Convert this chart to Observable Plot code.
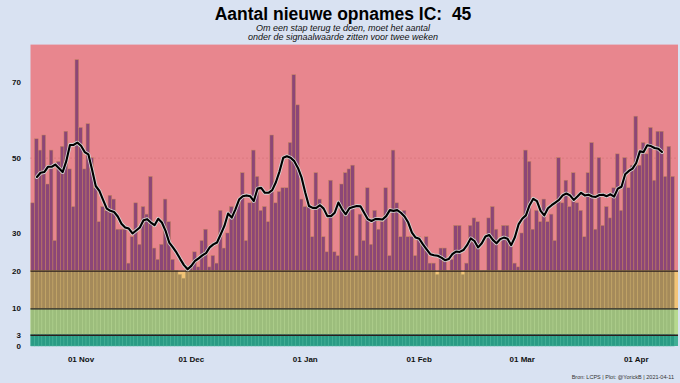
<!DOCTYPE html>
<html>
<head>
<meta charset="utf-8">
<script src="https://cdn.jsdelivr.net/npm/d3@7"></script>
<script src="https://cdn.jsdelivr.net/npm/@observablehq/plot@0.6"></script>
<style>
  html, body { margin: 0; padding: 0; background: #d9e2f2; }
  #fig { position: relative; width: 680px; height: 383px; overflow: hidden; background: #d9e2f2;
         font-family: "Liberation Sans", Arial, sans-serif; }
  #title { position: absolute; left: 0; width: 686px; top: 5px; text-align: center; font-weight: bold;
           font-size: 17.5px; line-height: 18px; white-space: pre; color: #000; }
  .sub { position: absolute; left: 0; width: 686px; text-align: center; font-style: italic;
         font-size: 9px; line-height: 9px; color: #111; }
  #chart { position: absolute; left: 0; top: 40px; }
  #cap { position: absolute; right: 6px; top: 374px; font-size: 5.5px; line-height: 6px; color: #333; }
</style>
</head>
<body>
<div id="fig">
  <div id="title"></div>
  <div class="sub" style="top:24px">Om een stap terug te doen, moet het aantal</div>
  <div class="sub" style="top:33px">onder de signaalwaarde zitten voor twee weken</div>
  <div id="chart"></div>
  <div id="cap">Bron: LCPS | Plot: @YorickB | 2021-04-11</div>
</div>
<script>
// ---- data ----
const startDate = "2020-10-19";
const endDate = "2021-04-12"; // exclusive
const opnames = [
  38,55,52,56,43,52,28,49,53,57,47,37,76,58,47,59,50,42,33,37,
  36,40,39,31,31,31,22,29,38,27,37,35,45,26,23,27,39,33,23,20,
  19,18,21,21,25,21,28,31,21,24,22,36,26,30,37,36,38,46,28,38,
  52,45,36,37,33,56,38,41,42,42,54,72,64,39,37,37,29,46,39,29,
  25,44,25,24,43,46,47,48,24,35,28,42,27,36,31,33,42,24,52,38,
  29,36,29,29,24,29,27,29,22,22,19,26,26,20,23,32,32,19,22,32,
  34,33,20,20,34,37,31,20,32,32,27,22,21,30,52,49,31,36,33,39,
  33,35,28,50,38,44,37,46,38,36,29,46,54,31,50,32,37,34,42,51,
  36,50,42,48,61,48,54,51,58,44,57,57,45,53,45
];
const gemiddelde = [
  null,45,46.1,46.3,47.7,47.7,48.3,47.3,46.3,49.2,53.5,53.5,54.1,53.3,51.6,51,47,42.6,41.3,38.9,
  36.6,36,35.7,34.5,32.6,31.6,31.3,30,30.8,31.6,33.5,33.8,32.9,32.2,33.9,32.9,30.7,27.6,26.3,24.9,
  23.2,21.6,20.5,21.4,22.7,23.4,24.2,24.8,26.3,27.1,27.6,29.8,32,35.3,34.2,36.4,39,39.9,40.1,39.9,
  38.6,41.9,42.1,40.8,40.8,41.5,43.6,46.5,50.1,50.5,50.1,49.2,47.4,44.8,40.8,37.3,36.8,36.8,37.5,36.6,
  34.6,34.6,35.5,38.2,36.4,35.1,36.7,37,37.3,37.2,35.5,33.8,33.3,33.8,33.8,33.7,34.6,36.2,36,36.2,
  35.5,34.5,32.9,30.2,28.9,28.6,27.1,25.8,24.5,24.2,24.1,23.6,22.9,23.2,24.5,25.2,25.1,25.6,26.9,28.7,
  28,26.3,27.4,29.2,29.6,28.3,27.4,28.5,28.9,28.6,26.9,29,32.4,33.9,34.8,37.5,39.2,38.6,36,34.8,
  36.7,37.5,38.2,38.9,40.1,40.6,40.1,38.9,39.8,40.8,40.1,40.3,39.8,39.7,40.2,40.3,39.9,40.4,39.8,41.9,
  42.4,45.7,46.6,47.2,48.7,51.8,51.6,53.4,53.2,52.7,52.5,51.6,null,null,null
];
const yTicks = [0, 3, 10, 20, 30, 50, 70];
const xTickDates = ["2020-11-01", "2020-12-01", "2021-01-01", "2021-02-01", "2021-03-01", "2021-04-01"];
const bandLo = [20, 10, 3, 0];
const bandHi = [80, 20, 10, 3];
const signaalLijnen = [20, 10, 3];
const stippelLijn = [50];

// ---- styles ----
const bgColors   = ["#e8868e", "#f2c477", "#b6d98f", "#3fae95"];
const barFills   = ["#8c4677", "#a58a5a", "#9cbd7c", "#2a9b85"];
const barStrokes = ["#c4845f", "#c8ab6b", "#b2d290", "#4cb59c"];

// ---- build table ----
const day = 864e5;
const dates = d3.utcDay.range(new Date(startDate), new Date(endDate));
const data = dates.map((d, i) => ({
  date: d,
  end: new Date(+d + day),
  mid: new Date(+d + day / 2),
  v: opnames[i],
  avg: gemiddelde[i]
}));
const xDomain = [new Date(+new Date(startDate) - 0.1 * day), new Date(+new Date(endDate) + day)];
const bands = bandLo.map((lo, i) => ({lo, hi: bandHi[i], i}));

document.getElementById("title").textContent =
  "Aantal nieuwe opnames IC:  " + opnames[opnames.length - 1];

const marks = [];
// band backgrounds
marks.push(Plot.rect(bands, {
  x1: () => xDomain[0], x2: () => xDomain[1], y1: "lo", y2: "hi",
  fill: d => bgColors[d.i]
}));
// dotted line at 50 (behind bars)
marks.push(Plot.ruleY(stippelLijn, {stroke: "#c9656e", strokeWidth: 0.8, strokeDasharray: "1,3"}));
// bars, split per band
bands.forEach(b => {
  marks.push(Plot.rect(data.filter(d => d.v > b.lo), {
    x1: "date", x2: "end",
    y1: () => b.lo, y2: d => Math.min(d.v, b.hi),
    fill: barFills[b.i], stroke: barStrokes[b.i], strokeWidth: 0.5
  }));
});
// signal lines
marks.push(Plot.ruleY(signaalLijnen, {stroke: "#2a1c1c", strokeWidth: 1.4}));
// 7-day average line with halo
const lineData = data.filter(d => d.avg != null);
marks.push(Plot.line(lineData, {x: "mid", y: "avg", stroke: "#d4d4d4", strokeWidth: 3.8, strokeLinejoin: "round"}));
marks.push(Plot.line(lineData, {x: "mid", y: "avg", stroke: "#000", strokeWidth: 2.1, strokeLinejoin: "round"}));

const chart = Plot.plot({
  width: 680,
  height: 343,
  marginTop: 4.6,
  marginBottom: 37,
  marginLeft: 30.5,
  marginRight: 2,
  style: {background: "transparent", fontFamily: "Liberation Sans, Arial, sans-serif",
          fontSize: "8px", fontWeight: "bold", color: "#111"},
  x: {type: "utc", domain: xDomain, label: null, tickSize: 0, tickPadding: 10,
      ticks: xTickDates.map(s => new Date(+new Date(s) + day / 2)),
      tickFormat: d3.utcFormat("%d %b")},
  y: {domain: [0, 80], label: null, tickSize: 0, tickPadding: 10, ticks: yTicks},
  marks
});
document.getElementById("chart").appendChild(chart);
</script>
</body>
</html>
